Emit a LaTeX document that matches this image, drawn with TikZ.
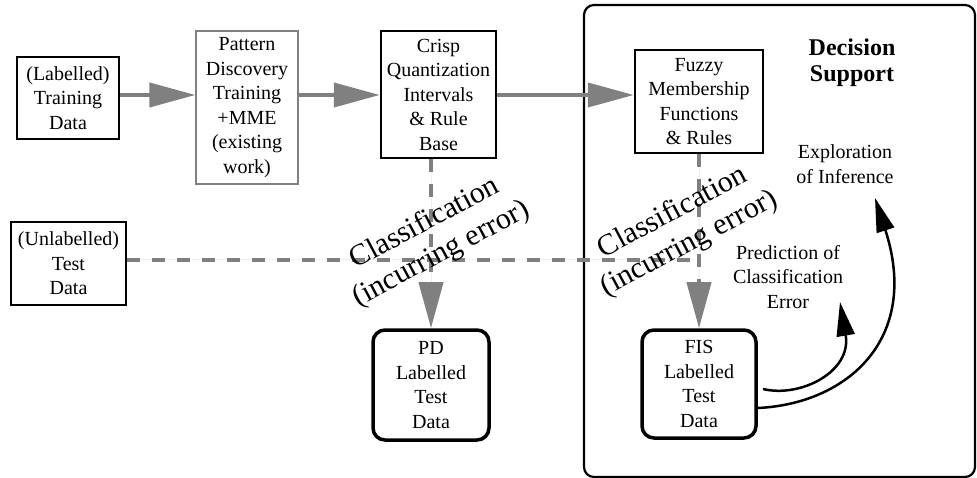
\documentclass[tikz,border=0pt]{standalone}
\usepackage{fontspec}
\setmainfont{Liberation Serif}
\usetikzlibrary{arrows.meta}
\definecolor{flowgray}{RGB}{128,128,128}
\begin{document}
\begin{tikzpicture}[x=1pt,y=-1pt,
  every node/.style={font=\fontsize{20}{24.5}\selectfont, align=center, inner sep=0pt},
  thinbox/.style={draw, line width=1.2pt},
  greybox/.style={draw=flowgray, line width=1.2pt},
  boldbox/.style={draw, line width=2.5pt},
  resultbox/.style={draw, line width=3.5pt, rounded corners=12pt},
  flow/.style={draw=flowgray, line width=4pt, -{Triangle[length=46pt,width=24pt]}, fill=flowgray},
  classify/.style={flow, dash pattern=on 13pt off 12pt},
  infer/.style={draw=black, line width=2.5pt, -{Triangle[length=34pt,width=18pt]}},
  tilted/.style={rotate=28, font=\fontsize{30}{35}\selectfont}]
\useasboundingbox (0,0) rectangle (977,478);

% Decision support frame
\node[draw, line width=2.2pt, rounded corners=10pt, minimum width=391pt, minimum height=472pt] (frame) at (779.5,241) {};
\node[font=\bfseries\fontsize{24}{26}\selectfont] (dstitle) at (852,63) {Decision\\Support};

% process boxes
\node[thinbox, minimum width=102pt, minimum height=82pt] (train) at (68,98) {(Labelled)\\Training\\Data};
\node[greybox, minimum width=102pt, minimum height=153pt] (pd) at (247,107.5) {Pattern\\Discovery\\Training\\+MME\\(existing\\work)};
\node[boldbox, minimum width=115pt, minimum height=127pt] (crisp) at (438.5,94.5) {Crisp\\Quantization\\Intervals\\\& Rule\\Base};
\node[boldbox, minimum width=128pt, minimum height=103pt] (fuzzy) at (699,101.5) {Fuzzy\\Membership\\Functions\\\& Rules};
\node[thinbox, minimum width=115pt, minimum height=83pt] (test) at (68.5,263.5) {(Unlabelled)\\Test\\Data};
\node[resultbox, minimum width=116pt, minimum height=110pt] (pdout) at (431,385) {PD\\Labelled\\Test\\Data};
\node[resultbox, minimum width=114pt, minimum height=108pt] (fisout) at (699,384) {FIS\\Labelled\\Test\\Data};

% free labels
\node (explore) at (845,164) {Exploration\\of Inference};
\node (predict) at (788,277) {Prediction of\\Classification\\Error};

% training flow
\coordinate (rowA) at (0,95);
\draw[flow] (train.east |- rowA) -- (pd.west |- rowA);
\draw[flow] (pd.east |- rowA) -- (crisp.west |- rowA);
\draw[flow] (crisp.east |- rowA) -- (fuzzy.west |- rowA);

% classification of the test data
\coordinate (rowB) at (0,260);
\draw[classify, -] (test.east |- rowB) -- ([xshift=-6pt]fisout.north |- rowB);
\draw[classify] (pdout.north |- crisp.south) -- (pdout.north);
\draw[classify] (fisout.north |- fuzzy.south) -- (fisout.north);

\node[tilted] (cls1) at (433,239) {Classification\\(incurring error)};
\node[tilted] (cls2) at (681,228.5) {Classification\\(incurring error)};

% decision support arrows
\coordinate (predStart) at (763,389);
\coordinate (predTip) at (840,302);
\coordinate (explTip) at (875,198);
\draw[infer] (predStart) .. controls (800,398) and (852,372) .. (predTip);
\draw[infer] (fisout.east |- 0,408) .. controls (846,404) and (921,340) .. (explTip);
\end{tikzpicture}
\end{document}
